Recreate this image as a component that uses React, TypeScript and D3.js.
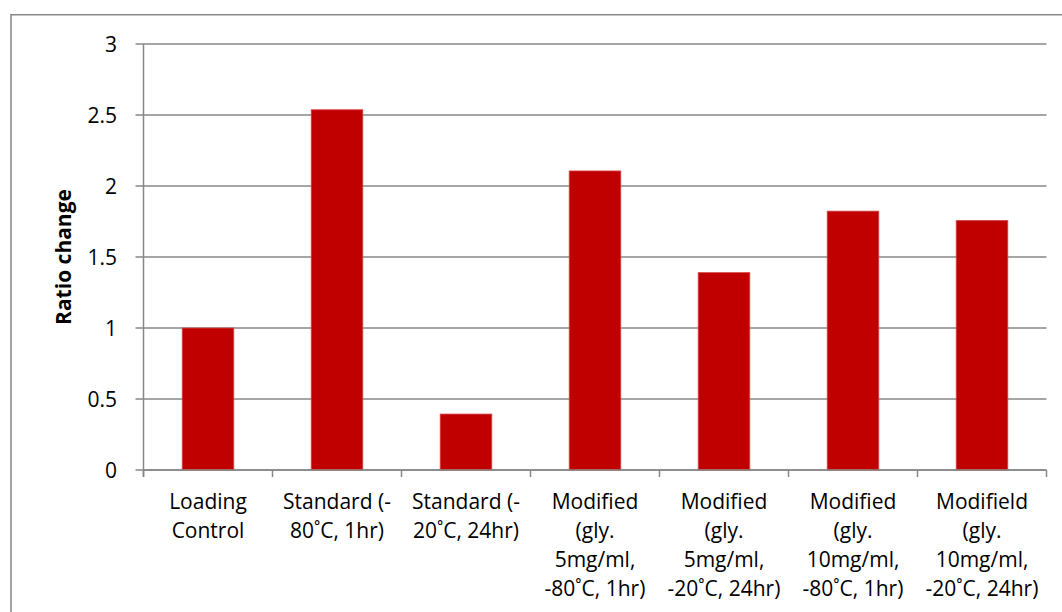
import React from "react";
import * as d3 from "d3";

const categories: string[][] = [
  ["Loading", "Control"],
  ["Standard (-", "80˚C, 1hr)"],
  ["Standard (-", "20˚C, 24hr)"],
  ["Modified", "(gly.", "5mg/ml,", "-80˚C, 1hr)"],
  ["Modified", "(gly.", "5mg/ml,", "-20˚C, 24hr)"],
  ["Modified", "(gly.", "10mg/ml,", "-80˚C, 1hr)"],
  ["Modifield", "(gly.", "10mg/ml,", "-20˚C, 24hr)"],
];
const values: number[] = [1.0, 2.537, 0.394, 2.106, 1.39, 1.823, 1.757];
const yTicks: number[] = [0, 0.5, 1, 1.5, 2, 2.5, 3];
const yTickLabels: string[] = ["0", "0.5", "1", "1.5", "2", "2.5", "3"];
const yTitle = "Ratio change";

const W = 1062;
const H = 612;
const FONT = "'Open Sans', 'Liberation Sans', sans-serif";
const GRID = "#878787";

export default function App() {
  const left = 143.5;
  const right = 1046.5;
  const top = 44;
  const bottom = 470;

  const keys = categories.map((_, i) => String(i));
  const x = d3
    .scaleBand<string>()
    .domain(keys)
    .range([left, right])
    .paddingInner(0.6)
    .paddingOuter(0.3);
  const y = d3.scaleLinear().domain([0, 3]).range([bottom, top]);
  const step = x.step();

  const boundaries = d3.range(categories.length + 1).map((i) => left + i * step);

  return (
    <svg
      width={W}
      height={H}
      style={{ position: "absolute", left: 0, top: 0, background: "#fff" }}
      fontFamily={FONT}
    >
      <rect x={0} y={0} width={W} height={H} fill="#fff" />
      {/* outer chart frame (extends past the right/bottom edges) */}
      <rect x={11} y={14.75} width={W + 20} height={H + 20} fill="none" stroke={GRID} strokeWidth={1.5} />

      {/* gridlines */}
      {yTicks.map((t) => (
        <line key={"g" + t} x1={left - 8} x2={right} y1={y(t)} y2={y(t)} stroke={GRID} strokeWidth={1.5} />
      ))}

      {/* bars */}
      {values.map((v, i) => (
        <rect
          key={"b" + i}
          x={x(String(i))}
          y={y(v)}
          width={x.bandwidth()}
          height={y(0) - y(v)}
          fill="#C00000"
          stroke="#D6474A"
          strokeWidth={0.8}
        />
      ))}

      {/* y axis line */}
      <line x1={left} x2={left} y1={top} y2={bottom + 7} stroke={GRID} strokeWidth={1.5} />
      {/* x axis line */}
      <line x1={left} x2={right} y1={bottom} y2={bottom} stroke={GRID} strokeWidth={1.5} />
      {/* category ticks */}
      {boundaries.map((bx, i) => (
        <line key={"t" + i} x1={bx} x2={bx} y1={bottom} y2={bottom + 7} stroke={GRID} strokeWidth={1.5} />
      ))}

      {/* y tick labels */}
      {yTicks.map((t, i) => (
        <text key={"yl" + t} x={117} y={y(t)} dy="0.36em" textAnchor="end" fontSize={21} fill="#000">
          {yTickLabels[i]}
        </text>
      ))}

      {/* category labels */}
      {categories.map((lines, i) => {
        const cx = (x(String(i)) as number) + x.bandwidth() / 2;
        return (
          <text key={"c" + i} x={cx} y={509} textAnchor="middle" fontSize={21} fill="#000">
            {lines.map((ln, j) => (
              <tspan key={j} x={cx} y={509 + j * 29}>
                {ln}
              </tspan>
            ))}
          </text>
        );
      })}

      {/* y axis title */}
      <text
        transform={`translate(71, ${(top + bottom) / 2}) rotate(-90)`}
        textAnchor="middle"
        fontSize={21}
        fontWeight="bold"
        fill="#000"
      >
        {yTitle}
      </text>
    </svg>
  );
}
